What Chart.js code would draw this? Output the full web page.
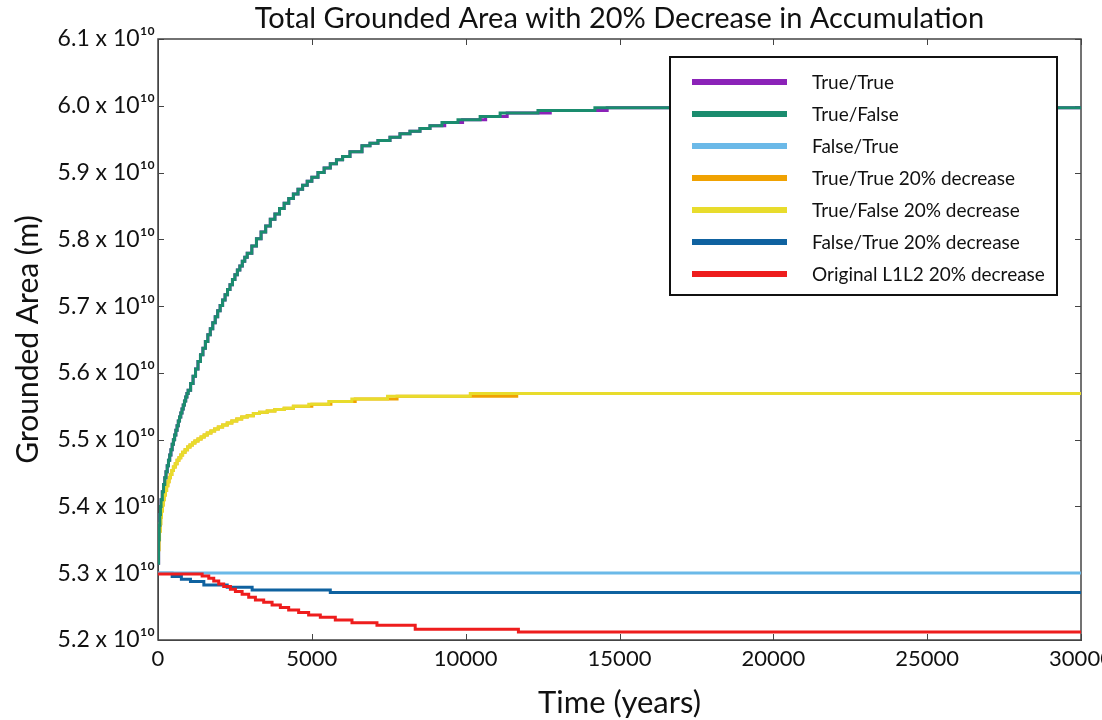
<!DOCTYPE html>
<html>
<head>
<meta charset="utf-8">
<title>Total Grounded Area</title>
<script src="https://cdn.jsdelivr.net/npm/chart.js@4.4.1/dist/chart.umd.min.js"></script>
<style>
    body { margin: 0; background: #fff; }
    #wrap { width: 1102px; height: 720px; }
</style>
</head>
<body>
<div id="wrap"><canvas id="chart" width="1102" height="720"></canvas></div>
<script>
// values in units of 10^10 m, times in years

// True/True and True/False (full accumulation) share the same rise until ~8800 yr
var fullRiseTimes = [0, 20, 40, 60, 80, 100, 140, 180, 220, 260, 300, 340, 380, 420, 460, 500, 540, 580, 620, 660, 700, 740, 780, 820, 860, 900, 940, 980,
    1060, 1140, 1220, 1300, 1380, 1460, 1540, 1620, 1700, 1780, 1860, 1940, 2020, 2100, 2180, 2260, 2340, 2420, 2500, 2580, 2660, 2740, 2820, 2900,
    3050, 3200, 3350, 3500, 3650, 3800, 3950, 4100, 4250, 4400, 4550, 4700, 4850, 5000, 5200, 5400, 5600, 5800, 6000,
    6240, 6630, 6890, 7150, 7540, 7865, 8190, 8515, 8840];
var fullRiseValues = [5.315, 5.35, 5.372, 5.388, 5.4, 5.41, 5.422, 5.433, 5.443, 5.452, 5.461, 5.469, 5.477, 5.485, 5.493, 5.5, 5.507, 5.514, 5.521, 5.528, 5.534, 5.54, 5.546, 5.552, 5.558, 5.564, 5.569, 5.574,
    5.584, 5.595, 5.606, 5.617, 5.627, 5.637, 5.647, 5.657, 5.666, 5.675, 5.684, 5.693, 5.701, 5.709, 5.717, 5.725, 5.732, 5.74, 5.747, 5.754, 5.76, 5.767, 5.773, 5.779,
    5.79, 5.801, 5.811, 5.82, 5.83, 5.838, 5.846, 5.854, 5.861, 5.868, 5.875, 5.881, 5.887, 5.893, 5.9, 5.907, 5.913, 5.919, 5.924,
    5.931, 5.94, 5.944, 5.948, 5.953, 5.958, 5.962, 5.966, 5.97];

var trueTrueTailTimes = [9320, 9900, 10650, 11350, 12750, 14600, 30000];
var trueTrueTailValues = [5.975, 5.979, 5.984, 5.989, 5.993, 5.997, 5.997];

var trueFalseTailTimes = [9230, 9750, 10470, 11120, 12350, 14200, 30000];
var trueFalseTailValues = [5.975, 5.979, 5.984, 5.989, 5.993, 5.997, 5.997];

var falseTrueTimes = [0, 30000];
var falseTrueValues = [5.3005, 5.3005];

// True/True and True/False with 20% decrease share the rise until ~4400 yr
var decRiseTimes = [0, 15, 30, 50, 70, 90, 110, 140, 170, 200, 240, 280, 320, 360, 400, 450, 500, 560, 620, 680, 740, 800, 880, 960,
    1040, 1120, 1200, 1300, 1400, 1500, 1600, 1720, 1840, 1960, 2100, 2250, 2400, 2560, 2720, 2900, 3100, 3300, 3550, 3800, 4100, 4400];
var decRiseValues = [5.318, 5.335, 5.35, 5.363, 5.374, 5.384, 5.393, 5.402, 5.41, 5.417, 5.424, 5.431, 5.437, 5.443, 5.448, 5.454, 5.459, 5.464, 5.469, 5.473, 5.477, 5.481, 5.485, 5.489,
    5.492, 5.495, 5.498, 5.501, 5.504, 5.507, 5.51, 5.513, 5.516, 5.519, 5.522, 5.525, 5.528, 5.531, 5.534, 5.536, 5.539, 5.541, 5.543, 5.545, 5.547, 5.55];

var trueTrueDecTailTimes = [5000, 5620, 6410, 7770, 11660, 30000];
var trueTrueDecTailValues = [5.553, 5.557, 5.561, 5.565, 5.569, 5.569];

var trueFalseDecTailTimes = [4900, 5550, 6300, 7460, 10150, 30000];
var trueFalseDecTailValues = [5.553, 5.557, 5.561, 5.565, 5.569, 5.569];

var falseTrueDecTimes = [0, 460, 760, 1055, 1490, 2250, 3060, 5600, 30000];
var falseTrueDecValues = [5.3, 5.295, 5.291, 5.2875, 5.2825, 5.279, 5.275, 5.271, 5.271];

var originalTimes = [0, 1435, 1650, 1812, 1974, 2136, 2354, 2516, 2734, 2948, 3166, 3435, 3708, 3977, 4247, 4571, 4896, 5276, 5763, 6305, 7117, 8360, 11714, 30000];
var originalValues = [5.299, 5.296, 5.2925, 5.2885, 5.284, 5.28, 5.276, 5.2725, 5.2685, 5.264, 5.26, 5.2565, 5.2525, 5.2485, 5.245, 5.241, 5.2375, 5.234, 5.23, 5.226, 5.222, 5.216, 5.212, 5.212];

var seriesLabels = ['True/True', 'True/False', 'False/True', 'True/True 20% decrease', 'True/False 20% decrease', 'False/True 20% decrease', 'Original L1L2 20% decrease'];
var seriesColors = ['#8b22b8', '#1a8c6e', '#6bb9e8', '#f0a202', '#e8dc2c', '#0f62a0', '#ee1d1d'];
// lower = drawn on top
var drawOrder = [3, 1, 5, 4, 2, 6, 0];

var xTicks = [0, 5000, 10000, 15000, 20000, 25000, 30000];

var FONT = 'Lato, "Open Sans", sans-serif';

function points(times, values) {
    return times.map(function (t, i) {
        return {x: t, y: values[i]};
    });
}

var allTimes = [
    fullRiseTimes.concat(trueTrueTailTimes),
    fullRiseTimes.concat(trueFalseTailTimes),
    falseTrueTimes,
    decRiseTimes.concat(trueTrueDecTailTimes),
    decRiseTimes.concat(trueFalseDecTailTimes),
    falseTrueDecTimes,
    originalTimes
];
var allValues = [
    fullRiseValues.concat(trueTrueTailValues),
    fullRiseValues.concat(trueFalseTailValues),
    falseTrueValues,
    decRiseValues.concat(trueTrueDecTailValues),
    decRiseValues.concat(trueFalseDecTailValues),
    falseTrueDecValues,
    originalValues
];

var datasets = seriesLabels.map(function (label, i) {
    return {
        label: label,
        data: points(allTimes[i], allValues[i]),
        borderColor: seriesColors[i],
        backgroundColor: seriesColors[i],
        borderWidth: 3,
        pointRadius: 0,
        fill: false,
        stepped: true,
        order: drawOrder[i]
    };
});

// title centred over the plot, not the canvas
var plotTitle = {
    id: 'plotTitle',
    afterDraw: function (chart) {
        var ctx = chart.ctx, area = chart.chartArea;
        ctx.save();
        ctx.font = '29px ' + FONT;
        ctx.fillStyle = '#111';
        ctx.textAlign = 'center';
        ctx.textBaseline = 'middle';
        ctx.fillText('Total Grounded Area with 20% Decrease in Accumulation', (area.left + area.right) / 2, 19);
        ctx.restore();
    }
};

// box round the plot with short inward ticks on every side
var frame = {
    id: 'frame',
    beforeDatasetsDraw: function (chart) {
        var ctx = chart.ctx, a = chart.chartArea;
        var xs = chart.scales.x, ys = chart.scales.y;
        ctx.save();
        ctx.strokeStyle = '#444';
        ctx.lineWidth = 1.5;
        ctx.strokeRect(a.left, a.top, a.right - a.left, a.bottom - a.top);
        ctx.lineWidth = 1;
        ctx.beginPath();
        xs.ticks.forEach(function (t) {
            var px = Math.round(xs.getPixelForValue(t.value)) + 0.5;
            ctx.moveTo(px, a.bottom); ctx.lineTo(px, a.bottom - 6);
            ctx.moveTo(px, a.top); ctx.lineTo(px, a.top + 6);
        });
        ys.ticks.forEach(function (t) {
            var py = Math.round(ys.getPixelForValue(t.value)) + 0.5;
            ctx.moveTo(a.left, py); ctx.lineTo(a.left + 6, py);
            ctx.moveTo(a.right, py); ctx.lineTo(a.right - 6, py);
        });
        ctx.stroke();
        ctx.restore();
    }
};

// boxed legend in the upper right of the plot
var boxLegend = {
    id: 'boxLegend',
    afterDraw: function (chart) {
        var ctx = chart.ctx;
        var left = 670, top = 57, right = 1057, bottom = 295;
        ctx.save();
        ctx.fillStyle = '#fff';
        ctx.fillRect(left, top, right - left, bottom - top);
        ctx.strokeStyle = '#111';
        ctx.lineWidth = 2;
        ctx.strokeRect(left, top, right - left, bottom - top);
        ctx.font = '19px ' + FONT;
        ctx.textBaseline = 'middle';
        chart.data.datasets.forEach(function (ds, i) {
            var y = 82 + i * 32;
            ctx.strokeStyle = ds.borderColor;
            ctx.lineWidth = 6;
            ctx.beginPath();
            ctx.moveTo(692, y);
            ctx.lineTo(787, y);
            ctx.stroke();
            ctx.fillStyle = '#111';
            ctx.fillText(ds.label, 812, y + 1);
        });
        ctx.restore();
    }
};

new Chart(document.getElementById('chart'), {
    type: 'line',
    data: {datasets: datasets},
    plugins: [frame, plotTitle, boxLegend],
    options: {
        responsive: false,
        animation: false,
        layout: {padding: {top: 39, right: 21, left: 0, bottom: 0}},
        plugins: {
            legend: {display: false},
            tooltip: {enabled: false}
        },
        scales: {
            x: {
                type: 'linear',
                min: 0,
                max: 30000,
                afterBuildTicks: function (scale) {
                    scale.ticks = xTicks.map(function (v) { return {value: v}; });
                },
                ticks: {
                    maxRotation: 0,
                    autoSkip: false,
                    padding: 6,
                    color: '#111',
                    font: {family: FONT, size: 22},
                    callback: function (v) { return String(v); }
                },
                grid: {drawOnChartArea: false, drawTicks: false},
                border: {color: '#444'},
                title: {
                    display: true,
                    text: 'Time (years)',
                    color: '#111',
                    font: {family: FONT, size: 31},
                    padding: {top: 0, bottom: -2}
                },
                afterFit: function (scale) {
                    scale.height = 80;
                    scale.paddingLeft = 0;
                    scale.paddingRight = 0;
                }
            },
            y: {
                min: 5.2,
                max: 6.1,
                ticks: {
                    stepSize: 0.1,
                    padding: 3,
                    color: '#111',
                    font: {family: FONT, size: 23},
                    callback: function (v) { return v.toFixed(1) + ' x 10\u00b9\u2070'; }
                },
                grid: {drawOnChartArea: false, drawTicks: false},
                border: {color: '#444'},
                title: {
                    display: true,
                    text: 'Grounded Area (m)',
                    color: '#111',
                    font: {family: FONT, size: 30},
                    padding: {top: 10, bottom: 0}
                },
                afterFit: function (scale) {
                    scale.width = 158;
                    scale.paddingTop = 0;
                    scale.paddingBottom = 0;
                }
            }
        }
    }
});
</script>
</body>
</html>
